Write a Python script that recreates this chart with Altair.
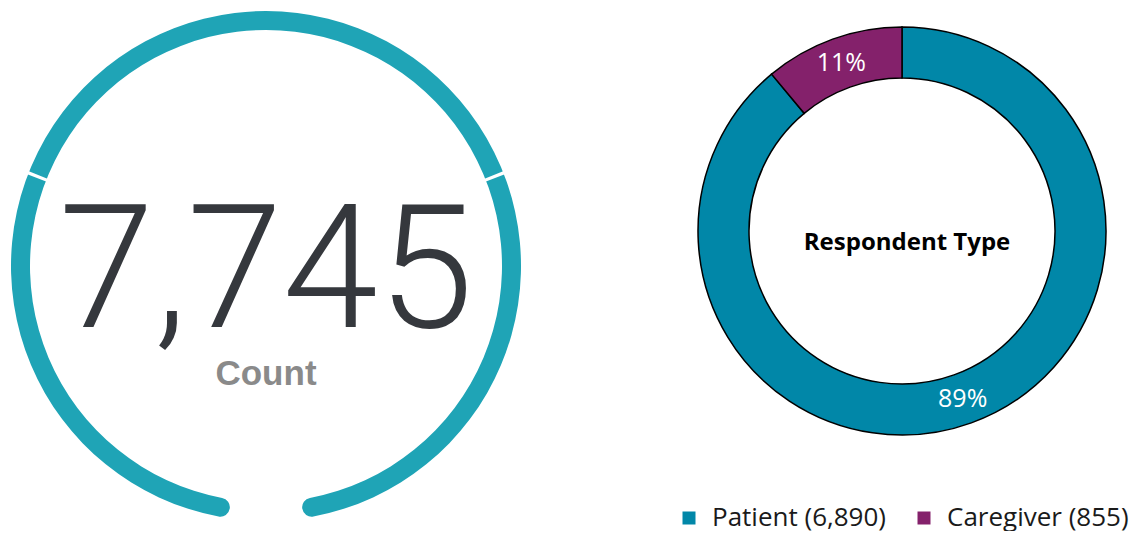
import math
import altair as alt
import pandas as pd

# ---- data ----
total_count = 7745
gauge_label = "Count"
gauge_shares = [0.3, 0.4, 0.3]          # gauge bands
gauge_sweep_deg = 343                    # gauge opening (bottom gap)

resp_types = ["Patient", "Caregiver"]
resp_counts = [6890, 855]
donut_title = "Respondent Type"

teal_gauge = "#1fa4b6"
type_colors = ["#0187a8", "#84216b"]

# ---- derived tables ----
start = math.radians(180 + (360 - gauge_sweep_deg) / 2)
end = start + math.radians(gauge_sweep_deg)
gauge_df = pd.DataFrame({"t0": [start], "t1": [end]})

bounds = []
acc = 0.0
for s in gauge_shares[:-1]:
    acc += s
    bounds.append(start + acc * math.radians(gauge_sweep_deg))
gap = 0.013
gap_df = pd.DataFrame({"t0": [b - gap / 2 for b in bounds], "t1": [b + gap / 2 for b in bounds]})

tot = sum(resp_counts)
donut_df = pd.DataFrame({
    "type": resp_types,
    "count": resp_counts,
    "ord": list(range(len(resp_types))),
    "legend": [f"{t} ({c:,})" for t, c in zip(resp_types, resp_counts)],
    "pct": [f"{round(100 * c / tot)}%" for c in resp_counts],
})
legend_domain = list(donut_df["legend"])

# ---- left: gauge ----
W1 = 516
ring = alt.Chart(gauge_df).mark_arc(
    innerRadius=236, outerRadius=255, cornerRadius=9.5, color=teal_gauge
).encode(
    theta=alt.Theta("t0:Q", scale=None), theta2="t1:Q"
)
gaps = alt.Chart(gap_df).mark_arc(
    innerRadius=228, outerRadius=262, color="white"
).encode(
    theta=alt.Theta("t0:Q", scale=None), theta2="t1:Q"
)
num = alt.Chart(pd.DataFrame({"v": [f"{total_count:,}"]})).mark_text(
    font="Roboto", fontWeight=300, fontSize=172, color="#35383d",
    baseline="alphabetic", align="center", dy=61
).encode(text="v:N")
lab = alt.Chart(pd.DataFrame({"v": [gauge_label]})).mark_text(
    font="Liberation Sans", fontWeight="bold", fontSize=35, color="#8a8a8a",
    baseline="alphabetic", align="center", dy=119
).encode(text="v:N")
left = alt.layer(ring, gaps, num, lab).properties(width=W1, height=W1)

# ---- right: donut ----
W2 = 446
base = alt.Chart(donut_df).encode(
    theta=alt.Theta("count:Q", stack=True),
    order=alt.Order("ord:Q"),
)
arcs = base.mark_arc(innerRadius=153, outerRadius=204, stroke="black", strokeWidth=1.5).encode(
    color=alt.Color(
        "legend:N",
        scale=alt.Scale(domain=legend_domain, range=type_colors),
        legend=alt.Legend(
            title=None, orient="none", direction="horizontal",
            legendX=668, legendY=497,
            symbolType="square", symbolSize=169, symbolStrokeWidth=0,
            labelFont="Open Sans", labelFontSize=26, labelColor="#1a1a1a",
            labelOffset=10, columnPadding=24, padding=0, labelLimit=400,
        ),
    )
)
pcts = base.mark_text(radius=178.5, font="Open Sans", fontSize=25, color="white").encode(
    text="pct:N"
)
center = alt.Chart(pd.DataFrame({"v": [donut_title]})).mark_text(
    font="Open Sans", fontWeight="bold", fontSize=24, color="black",
    baseline="alphabetic", align="center", dx=5, dy=19
).encode(text="v:N")
right = alt.layer(arcs, pcts, center).properties(width=W2, height=W2)

chart = alt.hconcat(left, right, spacing=155).properties(padding=0).configure_view(stroke=None)
chart.save("out.html", embed_options={"renderer": "svg", "actions": False})
